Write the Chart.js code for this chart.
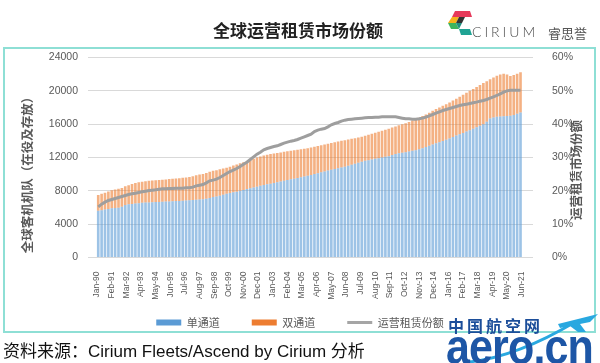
<!DOCTYPE html>
<html>
<head>
<meta charset="utf-8">
<script src="https://cdn.jsdelivr.net/npm/chart.js@4.4.1/dist/chart.umd.min.js"></script>
<style>
html,body{margin:0;padding:0;background:#fff;}
body{width:600px;height:363px;position:relative;overflow:hidden;font-family:"Noto Sans CJK SC",sans-serif;}
#frame{position:absolute;left:3px;top:47px;width:589px;height:282px;border:2px solid #8edfd5;box-sizing:content-box;}
#chart{position:absolute;left:0;top:0;}
#title{position:absolute;left:0;top:18px;width:596px;text-align:center;font-size:17px;font-weight:bold;line-height:24px;color:#222;}
.axt{position:absolute;width:220px;height:18px;line-height:18px;text-align:center;font-size:12.5px;font-weight:bold;color:#595959;transform:rotate(-90deg);transform-origin:50% 50%;white-space:nowrap;}
#ytl{left:-83px;top:163px;}
#ytr{left:466px;top:161px;}
#cirium{position:absolute;left:472px;top:22px;font-family:Lato,"Open Sans",sans-serif;font-weight:300;font-size:14px;letter-spacing:3px;color:#4a4a4a;line-height:20px;}
#cirium-cn{position:absolute;left:548px;top:23px;font-size:13px;color:#555;line-height:20px;}
#icon{position:absolute;left:446px;top:10px;}
#source{position:absolute;left:3px;top:340px;font-family:"Liberation Sans","Noto Sans CJK SC",sans-serif;font-size:17px;line-height:24px;color:#111;white-space:nowrap;}
#aero-cn{position:absolute;left:448px;top:314px;font-size:16px;font-weight:bold;letter-spacing:3px;color:#1c4e9a;line-height:22px;}
#aero{position:absolute;left:446px;top:322px;font-family:"Liberation Sans",sans-serif;font-size:50px;font-weight:bold;line-height:50px;color:#1d56a6;letter-spacing:-1px;transform:scaleX(0.86);transform-origin:0 0;white-space:nowrap;}
#swoosh{position:absolute;left:440px;top:312px;}
</style>
</head>
<body>
<div id="frame"></div>
<canvas id="chart" width="600" height="357"></canvas>
<div id="title">全球运营租赁市场份额</div>
<svg id="icon" width="28" height="26" viewBox="0 0 28 26">
  <polygon points="9,1 24,1 26,7 6,7" fill="#e6395a"/>
  <polygon points="6,7 13,7 10,13 2,13" fill="#f5b21b"/>
  <polygon points="13,7 19,7 16,13 10,13" fill="#333"/>
  <polygon points="2,13 10,13 13,19 5,19" fill="#3cb45e"/>
  <polygon points="10,13 16,13 13,19" fill="#1e8f80"/>
  <polygon points="13,19 24,19 26,25 15,25" fill="#20a394"/>
</svg>
<div id="cirium">CIRIUM</div>
<div id="cirium-cn">睿思誉</div>
<div class="axt" id="ytl">全球客机机队（在役及存放）</div>
<div class="axt" id="ytr">运营租赁市场份额</div>
<div id="source">资料来源：Cirium Fleets/Ascend by Cirium 分析</div>
<svg id="swoosh" width="160" height="52" viewBox="0 0 160 52">
  <path d="M30,50 C70,45 110,25 135,10" stroke="#29a8e0" stroke-width="3" fill="none"/>
  <polygon points="118,12 158,2 150,10 140,12 146,20 138,20 130,14 120,16" fill="#29a8e0"/>
</svg>
<div id="aero-cn">中国航空网</div>
<div id="aero">aero.cn</div>
<script>
// Quarterly readings (mid-quarter), Jan-90 .. Jun-21
const singleAisle = [
  5600,5670,5750,5820, 5900,5940,5970,6100, 6300,6380,6430,6480, 6520,6560,6590,6610,
  6630,6650,6670,6690, 6710,6730,6750,6770, 6790,6810,6840,6860, 6900,6940,6970,7000,
  7060,7150,7250,7330, 7420,7530,7640,7740, 7820,7900,8010,8110, 8220,8310,8400,8500,
  8600,8690,8780,8860, 8950,9030,9110,9200, 9290,9380,9450,9530, 9630,9720,9810,9900,
  10010,10120,10230,10320, 10430,10530,10620,10700, 10790,10880,11000,11130, 11250,11370,11490,11600,
  11680,11760,11840,11920, 12000,12080,12160,12300, 12420,12500,12570,12640, 12720,12800,12870,12980,
  13120,13270,13420,13560, 13700,13840,13980,14120, 14280,14460,14630,14790, 14950,15110,15280,15450,
  15630,15820,16000,16300, 16690,16800,16880,16930, 16960,16980,17000,17100, 17250,17400
];
const twinAisle = [
  1910,1980,2030,2100, 2160,2210,2270,2250, 2250,2290,2390,2470, 2510,2530,2560,2610,
  2610,2610,2620,2640, 2660,2680,2700,2720, 2730,2750,2760,2800, 2860,2930,2980,3030,
  3090,3130,3150,3150, 3160,3150,3140,3150, 3210,3260,3290,3310, 3340,3390,3450,3500,
  3520,3560,3560,3560, 3540,3520,3500,3480, 3450,3430,3420,3390, 3360,3340,3310,3290,
  3270,3250,3230,3240, 3220,3220,3220,3220, 3210,3200,3150,3110, 3070,3040,3010,3000,
  3040,3080,3130,3170, 3220,3260,3290,3290, 3310,3380,3430,3480, 3550,3630,3730,3800,
  3850,3900,3960,4040, 4120,4160,4220,4280, 4320,4380,4430,4510, 4590,4650,4720,4780,
  4830,4880,4930,4850, 4690,4800,4940,5020, 5090,4970,4780,4800, 4800,4820
];
const leaseShare = [
  15.2,16.0,16.6,17.1, 17.4,17.7,18.0,18.3, 18.6,18.9,19.1,19.3, 19.5,19.7,19.9,20.1,
  20.2,20.3,20.5,20.6, 20.6,20.7,20.7,20.8, 20.8,20.8,20.9,20.9, 21.1,21.5,21.7,21.9,
  22.4,23.0,23.2,23.5, 24.0,24.6,25.2,25.8, 26.2,26.7,27.3,28.0, 28.6,29.4,30.2,31.0,
  31.6,32.3,32.7,33.0, 33.3,33.5,33.9,34.3, 34.6,34.9,35.1,35.4, 35.8,36.2,36.6,37.0,
  37.8,38.2,38.5,38.7, 39.2,39.8,40.2,40.5, 40.9,41.2,41.4,41.5, 41.6,41.7,41.8,41.9,
  42.0,42.0,42.1,42.1, 42.2,42.2,42.2,42.2, 42.2,42.0,41.8,41.6, 41.6,41.5,41.5,41.6,
  41.8,42.1,42.5,42.9, 43.3,43.7,44.1,44.4, 44.7,45.0,45.3,45.6, 45.8,46.0,46.2,46.4,
  46.6,46.9,47.1,47.4, 47.8,48.2,48.6,49.1, 49.6,50.0,50.2,50.2, 50.2,50.2
];
const tickLabels = ['Jan-90','Feb-91','Mar-92','Apr-93','May-94','Jun-95','Jul-96','Aug-97','Sep-98','Oct-99',
  'Nov-00','Dec-01','Jan-03','Feb-04','Mar-05','Apr-06','May-07','Jun-08','Jul-09','Aug-10',
  'Sep-11','Oct-12','Nov-13','Dec-14','Jan-16','Feb-17','Mar-18','Apr-19','May-20','Jun-21'];
const seriesNames = ['单通道','双通道','运营租赁份额'];

// month index (from Jan-90) of each quarter's middle month; labels every 13 months
const quarterMid = singleAisle.map((_, i) => 1 + 3 * i);
const toXY = arr => arr.map((v, i) => ({x: quarterMid[i], y: v}));
const tickFont = {family: 'Liberation Sans', size: 10.5};

// lift the legend row so it sits just under the rotated tick labels
const legendLift = {
  id: 'legendLift',
  afterLayout(chart) {
    const lg = chart.legend;
    if (lg) { lg.top -= 22; lg.bottom -= 22; }
  }
};

new Chart(document.getElementById('chart'), {
  plugins: [legendLift],
  data: {
    datasets: [
      {type: 'line', label: seriesNames[2], data: toXY(leaseShare), yAxisID: 'y1',
       borderColor: '#9e9e9e', borderWidth: 3, pointRadius: 0, tension: 0, order: 0},
      {type: 'bar', label: seriesNames[0], data: toXY(singleAisle), yAxisID: 'y',
       backgroundColor: 'rgba(91,155,213,0.6)', barPercentage: 0.78, categoryPercentage: 1, order: 1},
      {type: 'bar', label: seriesNames[1], data: toXY(twinAisle), yAxisID: 'y',
       backgroundColor: 'rgba(237,125,49,0.6)', barPercentage: 0.78, categoryPercentage: 1, order: 1}
    ]
  },
  options: {
    responsive: false,
    animation: false,
    layout: {padding: {top: 57.5, left: 0, right: 0, bottom: 0}},
    plugins: {
      tooltip: {enabled: false},
      legend: {
        position: 'bottom',
        maxHeight: 50,
        onClick: null,
        labels: {
          usePointStyle: true, pointStyleWidth: 25, boxHeight: 6, padding: 32,
          color: '#595959', font: {family: 'Noto Sans CJK SC', size: 11},
          generateLabels: () => [
            {text: seriesNames[0], fillStyle: '#5b9bd5', strokeStyle: '#5b9bd5', lineWidth: 0, pointStyle: 'rect', hidden: false, datasetIndex: 1, fontColor: '#595959'},
            {text: seriesNames[1], fillStyle: '#ed7d31', strokeStyle: '#ed7d31', lineWidth: 0, pointStyle: 'rect', hidden: false, datasetIndex: 2, fontColor: '#595959'},
            {text: seriesNames[2], fillStyle: '#a5a5a5', strokeStyle: '#a5a5a5', lineWidth: 3, pointStyle: 'line', hidden: false, datasetIndex: 0, fontColor: '#595959'}
          ]
        }
      }
    },
    scales: {
      x: {
        type: 'linear', min: -1.5, max: 380.5, stacked: true,
        grid: {display: false}, border: {display: false},
        afterBuildTicks: s => { s.ticks = tickLabels.map((_, i) => ({value: i * 13})); },
        afterFit: s => { s.height = 49.5; },
        ticks: {autoSkip: false, minRotation: 90, maxRotation: 90, padding: 6, color: '#595959',
          font: {family: 'Liberation Sans', size: 8.5},
          callback: v => tickLabels[Math.round(v / 13)]}
      },
      y: {
        position: 'left', stacked: true, min: 0, max: 24000,
        grid: {color: '#d9d9d9', drawTicks: false}, border: {display: false},
        afterFit: s => { s.width = 88; },
        ticks: {stepSize: 4000, padding: 10, color: '#595959', font: tickFont, callback: v => String(v)}
      },
      y1: {
        position: 'right', min: 0, max: 60,
        grid: {display: false}, border: {display: false},
        afterFit: s => { s.width = 67; },
        ticks: {stepSize: 10, padding: 11, color: '#595959', font: tickFont, callback: v => v + '%'}
      }
    }
  }
});
</script>
</body>
</html>
